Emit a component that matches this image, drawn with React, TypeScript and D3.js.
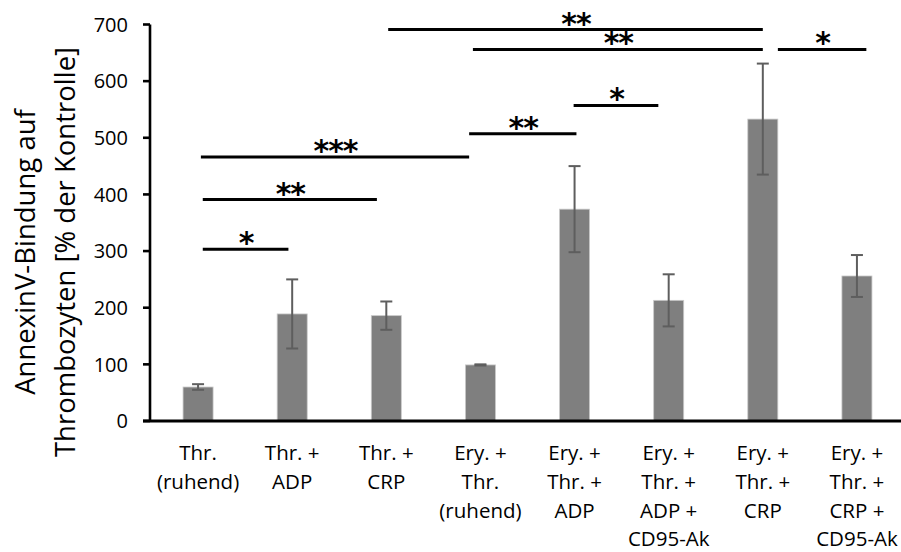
import React from "react";
import * as d3 from "d3";

// Group labels (each entry = lines of the tick label)
const categories: string[][] = [
  ["Thr.", "(ruhend)"],
  ["Thr. +", "ADP"],
  ["Thr. +", "CRP"],
  ["Ery. +", "Thr.", "(ruhend)"],
  ["Ery. +", "Thr. +", "ADP"],
  ["Ery. +", "Thr. +", "ADP +", "CD95-Ak"],
  ["Ery. +", "Thr. +", "CRP"],
  ["Ery. +", "Thr. +", "CRP +", "CD95-Ak"],
];

// Mean AnnexinV binding (% of control) and error (SEM)
const means: number[] = [60, 189, 186, 99, 374, 213, 533, 256];
const errors: number[] = [5, 61, 25, 1, 76, 46, 98, 37];

const yTicks: number[] = [0, 100, 200, 300, 400, 500, 600, 700];

// Significance brackets: span in group-index units, height in data units, stars
const sigFrom: number[] = [0.05, 0.05, 0.03, 2.88, 3.99, 2.02, 2.92, 6.16];
const sigTo: number[] = [0.96, 1.9, 2.88, 4.02, 4.89, 6.0, 6.0, 7.1];
const sigLevel: number[] = [303, 391, 466, 507, 557, 691, 656, 656];
const sigStars: string[] = ["*", "**", "***", "**", "*", "**", "**", "*"];

const W = 901;
const H = 552;
const FONT = "'Open Sans', Lato, sans-serif";
const STAR_FONT = "'DejaVu Sans', sans-serif";

export default function App() {
  const x = d3
    .scaleBand<number>()
    .domain(d3.range(categories.length))
    .range([151, 904])
    .paddingInner(0.681)
    .paddingOuter(0.3405);
  const y = d3.scaleLinear().domain([0, 700]).range([421, 24.5]);
  const bw = x.bandwidth();
  const center = (i: number) => (x(i) as number) + bw / 2;
  const xAt = (f: number) => center(0) + x.step() * f;
  const axisX = 150;

  return (
    <svg
      width={W}
      height={H}
      style={{ display: "block", position: "absolute", left: 0, top: 0 }}
      fontFamily={FONT}
    >
      <rect x={0} y={0} width={W} height={H} fill="#ffffff" />

      {/* bars */}
      {means.map((v, i) => (
        <rect
          key={`b${i}`}
          x={x(i)}
          y={y(v)}
          width={bw}
          height={y(0) - y(v)}
          fill="#7f7f7f"
          stroke="#c9c9c9"
          strokeWidth={0.8}
        />
      ))}

      {/* error bars */}
      {means.map((v, i) => {
        const cx = center(i);
        const hi = y(v + errors[i]);
        const lo = y(v - errors[i]);
        return (
          <g key={`e${i}`} stroke="#5e5e5e" strokeWidth={2}>
            <line x1={cx} x2={cx} y1={hi} y2={lo} />
            <line x1={cx - 6} x2={cx + 6} y1={hi} y2={hi} />
            <line x1={cx - 6} x2={cx + 6} y1={lo} y2={lo} />
          </g>
        );
      })}

      {/* y axis */}
      <line x1={axisX} x2={axisX} y1={y(700)} y2={y(0)} stroke="#000" strokeWidth={2.6} />
      {yTicks.map((t) => (
        <g key={`t${t}`}>
          <line x1={143} x2={axisX} y1={y(t)} y2={y(t)} stroke="#000" strokeWidth={2.6} />
          <text x={128} y={y(t) + 7.3} textAnchor="end" fontSize={20} fill="#000">
            {t}
          </text>
        </g>
      ))}

      {/* x axis */}
      <line x1={143} x2={W} y1={y(0)} y2={y(0)} stroke="#000" strokeWidth={2.8} />

      {/* category labels */}
      {categories.map((lines, i) => (
        <text key={`c${i}`} textAnchor="middle" fontSize={20.5} fill="#000">
          {lines.map((l, j) => (
            <tspan key={j} x={center(i)} y={460 + j * 28.8}>
              {l}
            </tspan>
          ))}
        </text>
      ))}

      {/* y axis title */}
      <g transform="translate(0,252) rotate(-90)" fontSize={27.5} fill="#000">
        <text x={0} y={35} textAnchor="middle">AnnexinV-Bindung auf</text>
        <text x={0} y={75} textAnchor="middle">Thrombozyten [% der Kontrolle]</text>
      </g>

      {/* significance brackets */}
      {sigStars.map((s, k) => {
        const x1 = xAt(sigFrom[k]);
        const x2 = xAt(sigTo[k]);
        const ly = y(sigLevel[k]);
        return (
          <g key={`s${k}`}>
            <line x1={x1} x2={x2} y1={ly} y2={ly} stroke="#000" strokeWidth={3} />
            <text
              x={(x1 + x2) / 2 + 0.5}
              y={ly + 4}
              textAnchor="middle"
              fontFamily={STAR_FONT}
              fontSize={30}
              fontWeight="bold"
              letterSpacing={-1}
              fill="#000"
            >
              {s}
            </text>
          </g>
        );
      })}
    </svg>
  );
}
